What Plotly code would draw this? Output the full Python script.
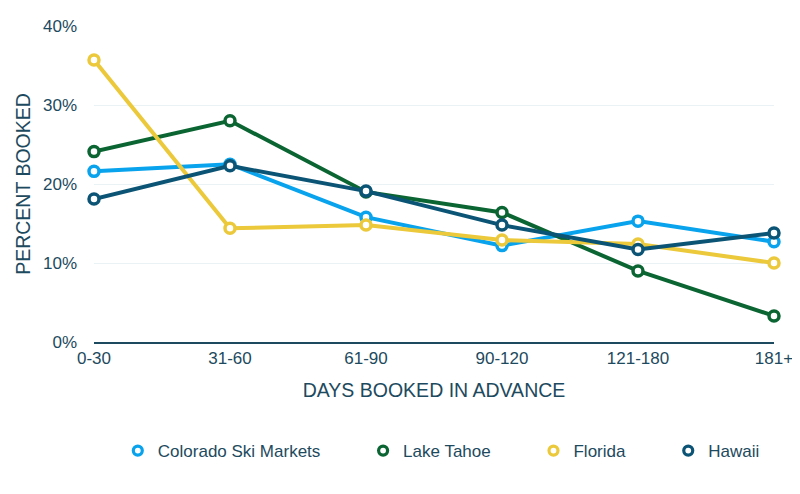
import plotly.graph_objects as go

categories = ["0-30", "31-60", "61-90", "90-120", "121-180", "181+"]
colorado = [21.6, 22.5, 15.8, 12.2, 15.3, 12.7]
tahoe = [24.1, 28.0, 19.0, 16.4, 9.0, 3.3]
florida = [35.7, 14.4, 14.8, 12.9, 12.4, 10.0]
hawaii = [18.1, 22.3, 19.1, 14.8, 11.7, 13.8]
y_ticks = [0, 10, 20, 30, 40]
y_tick_text = ["0%", "10%", "20%", "30%", "40%"]

series = [
    ("Colorado Ski Markets", colorado, "#08A3EC"),
    ("Lake Tahoe", tahoe, "#0B6533"),
    ("Florida", florida, "#EBC93B"),
    ("Hawaii", hawaii, "#0C5475"),
]

text_color = "#1D4A5E"
pad = "\u00a0" * 8
fig = go.Figure()
for name, vals, col in series:
    fig.add_trace(go.Scatter(
        x=categories, y=vals, name=name, mode="lines+markers", showlegend=False,
        line=dict(color=col, width=4), cliponaxis=False,
        marker=dict(size=10, color="white", line=dict(color=col, width=3.5)),
    ))
for i, (name, vals, col) in enumerate(series):
    label = name + (pad if i < len(series) - 1 else "")
    fig.add_trace(go.Scatter(
        x=[None], y=[None], name=label, mode="markers", showlegend=True,
        marker=dict(size=9, color="white", line=dict(color=col, width=3.2)),
    ))

fig.update_layout(
    width=792, height=486,
    margin=dict(l=86, r=26, t=18, b=152),
    paper_bgcolor="white", plot_bgcolor="white",
    font=dict(family="Liberation Sans, Arial, sans-serif", color=text_color, size=17),
    legend=dict(orientation="h", x=0.035, xanchor="left", y=-0.345, yanchor="middle",
                font=dict(size=17, color=text_color), itemwidth=30, tracegroupgap=0),
    xaxis=dict(
        type="category", range=[0, 5], showgrid=False,
        showline=True, linecolor=text_color, linewidth=2,
        ticks="", tickfont=dict(size=17, color=text_color),
        title=dict(text="DAYS BOOKED IN ADVANCE", font=dict(size=19.5, color=text_color), standoff=16),
        automargin=False, zeroline=False,
    ),
    yaxis=dict(
        range=[0, 40], tickmode="array", tickvals=y_ticks, ticktext=y_tick_text,
        showgrid=True, gridcolor="#EAF2F6", gridwidth=1, zeroline=False,
        tickfont=dict(size=17, color=text_color), ticks="", ticklabelstandoff=16,
        title=dict(text="PERCENT BOOKED", font=dict(size=19.5, color=text_color), standoff=7),
        automargin=False,
    ),
)

fig.write_html("out.html")
